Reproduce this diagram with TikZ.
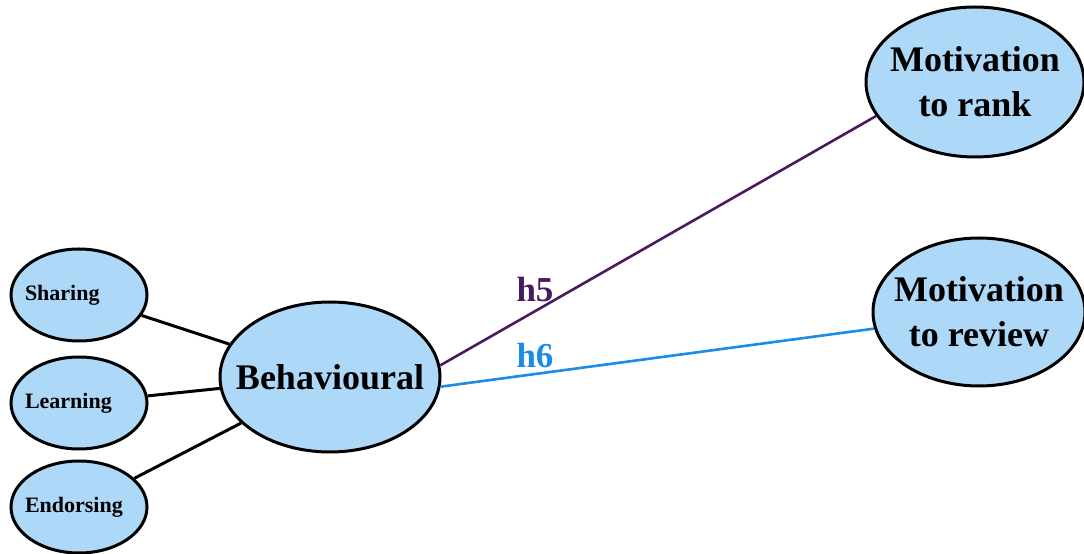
\documentclass[tikz,border=0pt]{standalone}
\usepackage{fontspec}
\setmainfont{Liberation Serif}
\usetikzlibrary{shapes.geometric}
\definecolor{BubbleFill}{HTML}{AED8F7}
\definecolor{HypPurple}{HTML}{4A1A5E}
\definecolor{HypBlue}{HTML}{1B8BE8}

\begin{document}
\begin{tikzpicture}[
      x=1pt,y=1pt,
      font=\bfseries,
      bubble/.style={ellipse,draw=black,line width=3pt,fill=BubbleFill,inner sep=0pt},
      small/.style={bubble,minimum width=136pt,minimum height=92pt,
        label={[text width=108pt,align=left,font=\bfseries\fontsize{22}{26}\selectfont]center:#1}},
      big/.style={bubble,label={[align=center,font=\bfseries\fontsize{36}{45}\selectfont]center:#1}},
      link/.style={line width=3pt,black},
      hyp/.style={font=\bfseries\fontsize{35}{40}\selectfont}
    ]
      \useasboundingbox (0,0) rectangle (1084,554);
      \node[small=Sharing] (share) at (79,259) {};
      \node[small=Learning] (learn) at (79,151) {};
      \node[small=Endorsing] (endorse) at (79,47) {};
      \node[big=Behavioural,minimum width=220pt,minimum height=150pt] (behav) at (330,177) {};
      \node[big={Motivation\\to rank},minimum width=218pt,minimum height=150pt] (rank) at (975,472) {};
      \node[big={Motivation\\to review},minimum width=212pt,minimum height=148pt] (review) at (979,242) {};
      \draw[link] (share) -- (behav);
      \draw[link] (learn) -- (behav);
      \draw[link] (endorse) -- (behav);
      \draw[line width=2.6pt,HypPurple] (behav.6) -- (rank.199);
      \draw[line width=2.6pt,HypBlue] (behav.355) -- (review.189);
      \node[hyp,text=HypPurple] (hfive) at (535,264) {h5};
      \node[hyp,text=HypBlue] (hsix) at (535,198) {h6};
    \end{tikzpicture}
\end{document}
